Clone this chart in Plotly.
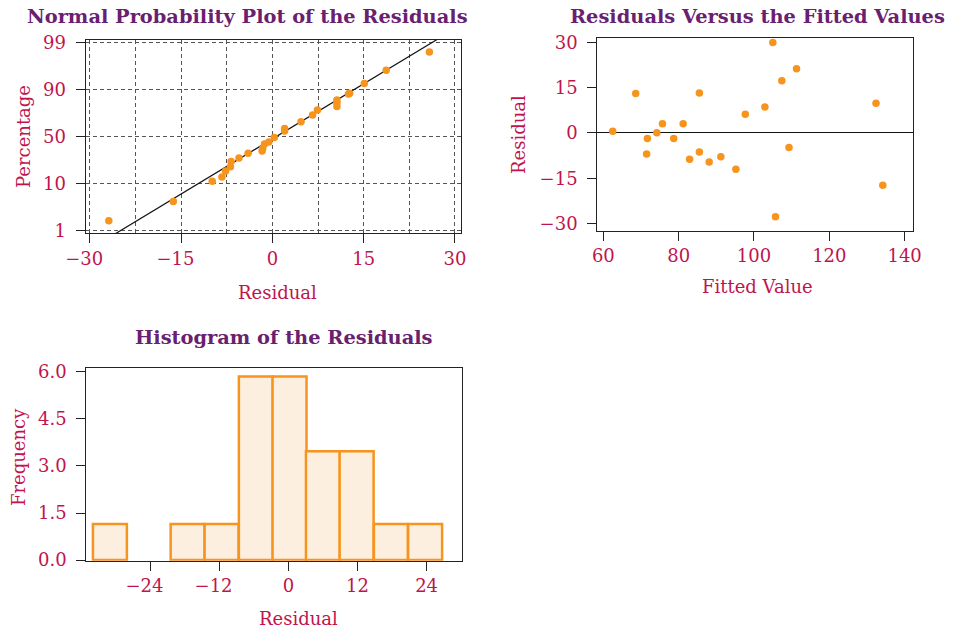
import numpy as np
import plotly.graph_objects as go

# ---------------- data ----------------
# Normal probability plot of the residuals
npp_residual = [-26.9, -16.3, -9.9, -8.3, -7.7, -6.9, -6.8, -5.5, -4.0, -1.7, -1.6, -1.3,
                -0.6, 0.3, 2.0, 2.0, 4.7, 6.6, 7.4, 10.6, 10.6, 10.6, 12.5, 12.7, 15.1,
                18.7, 25.8]
npp_percent = [2.9, 6.6, 12.0, 15.6, 20.8, 24.4, 29.0, 31.8, 36.0, 37.8, 40.0, 43.8,
               45.5, 49.4, 54.8, 57.0, 62.8, 68.4, 72.7, 75.8, 78.9, 81.2, 86.3, 87.0,
               91.2, 93.7, 97.2]
pct_ticks = [1, 10, 50, 90, 99]
npp_xticks = [-30, -15, 0, 15, 30]
fit_center = 0.6      # residual at 50 %
fit_spread = 12.8     # residual change per percentage tick step

# Residuals versus the fitted values
fitted = [62.5, 68.6, 71.7, 71.5, 74.2, 75.7, 78.7, 81.2, 82.9, 85.5, 85.5, 88.1,
          91.2, 95.2, 97.7, 102.9, 105.0, 105.7, 107.4, 109.3, 111.3, 132.4, 134.2]
resid = [0.6, 13.1, -1.8, -7.0, 0.1, 3.1, -1.8, 3.1, -8.7, 13.3, -6.3, -9.6,
         -7.9, -12.0, 6.2, 8.6, 30.0, -27.8, 17.3, -4.8, 21.3, 9.9, -17.3]
fitted_ticks = [60, 80, 100, 120, 140]
resid_ticks = [-30, -15, 0, 15, 30]

# Histogram of the residuals
hist_centers = [-31.0, -17.5, -11.6, -5.65, 0.2, 6.0, 11.85, 17.8, 23.75]
hist_freq = [1.15, 1.15, 1.15, 5.85, 5.85, 3.47, 3.47, 1.15, 1.15]
hist_width = 5.9
hist_xticks = [-24, -12, 0, 12, 24]
hist_yticks = [0, 1.5, 3, 4.5, 6]

# ---------------- styling ----------------
W, H = 958, 632
FONT = "DejaVu Serif"
PURPLE = "#6A2070"
CRIMSON = "#C0144E"
ORANGE = "#F7941D"
FILL = "#FDEFDF"
GRID = "#555555"


def dx(a, b):
    return [a / W, b / W]


def dy(top, bottom):
    return [1 - bottom / H, 1 - top / H]


def lab(v, fmt="{:g}"):
    s = fmt.format(abs(v))
    return ("\u2212" + s + "\u2007") if v < 0 else s


tickfont = dict(family=FONT, size=18, color=CRIMSON)

fig = go.Figure()

# normal probability plot
npp_pos = np.interp(npp_percent, pct_ticks, np.arange(len(pct_ticks)))
line_x = np.array([-40.0, 40.0])
line_pos = (len(pct_ticks) - 1) / 2 + (line_x - fit_center) / fit_spread
fig.add_trace(go.Scatter(x=line_x, y=line_pos, mode="lines",
                         line=dict(color="#111111", width=1.2),
                         xaxis="x", yaxis="y", hoverinfo="skip"))
fig.add_trace(go.Scatter(x=npp_residual, y=npp_pos, mode="markers",
                         marker=dict(color=ORANGE, size=7.5),
                         xaxis="x", yaxis="y"))

# residuals vs fitted
fig.add_trace(go.Scatter(x=fitted, y=resid, mode="markers",
                         marker=dict(color=ORANGE, size=7.5),
                         xaxis="x2", yaxis="y2"))

# histogram
fig.add_trace(go.Bar(x=hist_centers, y=hist_freq, width=hist_width,
                     marker=dict(color=FILL, line=dict(color=ORANGE, width=2.5)),
                     xaxis="x3", yaxis="y3"))

common = dict(showline=True, mirror=True, linecolor="#222222", linewidth=1.2,
              ticks="outside", ticklen=9, tickcolor="#222222", tickwidth=1.2,
              tickfont=tickfont, zeroline=False, showgrid=False, automargin=False)
ycommon = dict(**common, ticklabelstandoff=6)

gridcfg = dict(showgrid=True, griddash="4px,3px", gridcolor=GRID, gridwidth=1)

fig.update_layout(
    width=W, height=H,
    margin=dict(l=0, r=0, t=0, b=0, autoexpand=False),
    paper_bgcolor="white", plot_bgcolor="white",
    showlegend=False,
    xaxis=dict(**{**common, **gridcfg}, domain=dx(85.7, 461), range=[-30.7, 31.0],
               tickvals=npp_xticks, ticktext=[lab(v) for v in npp_xticks],
               minor=dict(tickvals=[-22.5, -7.5, 7.5, 22.5], showgrid=True,
                          griddash="4px,3px", gridcolor=GRID, gridwidth=1, ticks=""),
               anchor="y"),
    yaxis=dict(**{**ycommon, **gridcfg}, domain=dy(40, 233.3), range=[-0.055, 4.057],
               tickvals=list(range(len(pct_ticks))), ticktext=[str(p) for p in pct_ticks],
               anchor="x"),
    xaxis2=dict(**common, domain=dx(597.3, 913.3), range=[58.4, 142.3],
                tickvals=fitted_ticks, anchor="y2"),
    yaxis2=dict(**{**ycommon, "zeroline": True}, zerolinecolor="#111111", zerolinewidth=1.2,
                domain=dy(37.7, 230.7), range=[-32.4, 31.6],
                tickvals=resid_ticks, ticktext=[("\u2212" + str(-v)) if v < 0 else str(v)
                                                for v in resid_ticks],
                anchor="x2"),
    xaxis3=dict(**common, domain=dx(86.3, 461.7), range=[-35.1, 30.1],
                tickvals=hist_xticks, ticktext=[lab(v) for v in hist_xticks], anchor="y3"),
    yaxis3=dict(**ycommon, domain=dy(367.7, 560.7), range=[-0.02, 6.13],
                tickvals=hist_yticks, tickformat=".1f", anchor="x3"),
)


def ann(text, px, py, size, color, bold=False, angle=0):
    fig.add_annotation(text=f"<b>{text}</b>" if bold else text,
                       x=px / W, y=1 - py / H, xref="paper", yref="paper",
                       xanchor="center", yanchor="middle", showarrow=False,
                       textangle=angle, font=dict(family=FONT, size=size, color=color))


ann("Normal Probability Plot of the Residuals", 248, 16, 19.4, PURPLE, bold=True)
ann("Residuals Versus the Fitted Values", 757, 16, 19.4, PURPLE, bold=True)
ann("Histogram of the Residuals", 284, 337, 19.4, PURPLE, bold=True)

ann("Residual", 277, 292, 18, CRIMSON)
ann("Percentage", 23, 137, 18, CRIMSON, angle=-90)
ann("Fitted Value", 757, 286, 18, CRIMSON)
ann("Residual", 518, 135, 18, CRIMSON, angle=-90)
ann("Frequency", 18, 457, 18, CRIMSON, angle=-90)
ann("Residual", 298, 618, 18, CRIMSON)

fig.write_html("out.html",
               config={"displayModeBar": False},
               post_script="document.body.style.margin='0px';"
                           "document.body.style.overflow='hidden';")
